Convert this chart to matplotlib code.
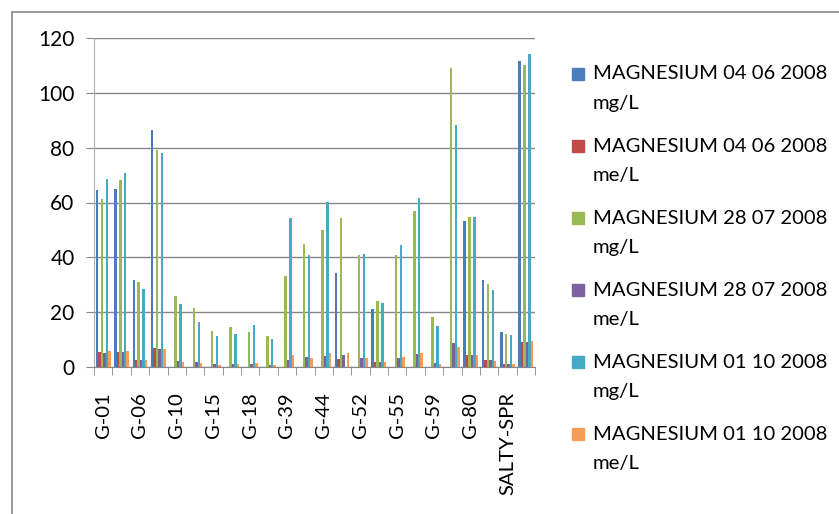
import numpy as np
import matplotlib
import matplotlib.pyplot as plt
from matplotlib.patches import Rectangle

matplotlib.use('Agg')

nan = np.nan

# sampling sites (Excel only printed every other name)
sites = ['G-01', '', 'G-06', '', 'G-10', '', 'G-15', '', 'G-18', '', 'G-39', '',
         'G-44', '', 'G-52', '', 'G-55', '', 'G-59', '', 'G-80', '', 'SALTY-SPR', '']

series_names = ['MAGNESIUM 04 06 2008\nmg/L', 'MAGNESIUM 04 06 2008\nme/L',
                'MAGNESIUM 28 07 2008\nmg/L', 'MAGNESIUM 28 07 2008\nme/L',
                'MAGNESIUM 01 10 2008\nmg/L', 'MAGNESIUM 01 10 2008\nme/L']

mg_0406 = [64.7, 65.0, 31.8, 86.6, nan, nan, nan, nan, nan, nan, nan, nan,
           nan, 34.4, nan, 21.3, nan, nan, nan, nan, 53.4, 31.8, 12.9, 111.7]
me_0406 = [5.3, 5.3, 2.6, 7.1, nan, nan, nan, nan, nan, nan, nan, nan,
           nan, 2.9, nan, 1.7, nan, nan, nan, nan, 4.4, 2.6, 1.1, 9.2]
mg_2807 = [61.4, 68.3, 31.1, 79.3, 26.0, 21.6, 13.2, 14.7, 12.9, 11.4, 33.3, 45.0,
           50.1, 54.5, 41.0, 24.2, 41.0, 57.0, 18.4, 109.2, 54.8, 30.4, 12.1, 110.3]
me_2807 = [5.1, 5.6, 2.6, 6.5, 2.1, 1.8, 1.1, 1.2, 1.1, 0.9, 2.7, 3.7,
           4.1, 4.5, 3.4, 1.9, 3.4, 4.7, 1.5, 8.6, 4.5, 2.5, 1.0, 9.1]
mg_0110 = [68.7, 70.9, 28.6, 78.2, 23.1, 16.5, 11.4, 12.1, 15.4, 10.3, 54.5, 41.0,
           60.3, nan, 41.3, 23.5, 44.6, 61.8, 15.1, 88.4, 54.8, 28.2, 11.8, 114.3]
me_0110 = [5.7, 5.8, 2.4, 6.4, 1.9, 1.4, 0.9, 1.0, 1.3, 0.8, 4.5, 3.4,
           5.0, 5.2, 3.4, 1.9, 3.7, 5.1, 1.2, 7.3, 4.5, 2.3, 1.0, 9.4]

colors = ['#4A7EBB', '#BE4B48', '#98B954', '#7D60A0', '#46AAC5', '#F59D56']

plt.rcParams['font.family'] = ['Lato', 'DejaVu Sans']

W, H = 839, 514
fig = plt.figure(figsize=(W / 100, H / 100), dpi=100)
ax = fig.add_axes([94 / W, 1 - 367 / H, (535 - 94) / W, (367 - 38) / H])

x = np.arange(len(sites))
n = len(series_names)
w = 1 / (n + 1.5)  # gap width 150%
all_series = [mg_0406, me_0406, mg_2807, me_2807, mg_0110, me_0110]
for j, (vals, c) in enumerate(zip(all_series, colors)):
    ax.bar(x + (j - (n - 1) / 2) * w, vals, width=w, color=c, linewidth=0)

ax.set_xlim(-0.5, len(sites) - 0.5)
ax.set_ylim(0, 120)
ax.set_yticks(range(0, 121, 20))
ax.yaxis.grid(True, color='#868686', linewidth=1)
ax.set_axisbelow(True)
ax.tick_params(axis='y', length=6, color='#868686', labelsize=15, pad=8)

ax.set_xticks(x)
ax.set_xticklabels(sites, rotation=90, fontsize=14.6)
ax.set_xticks(np.arange(-0.5, len(sites)), minor=True)
ax.tick_params(axis='x', which='major', length=0, pad=18)
ax.tick_params(axis='x', which='minor', length=6, color='#868686')

for s in ['top', 'right']:
    ax.spines[s].set_visible(False)
ax.spines['left'].set_color('#B0B0B0')
ax.spines['bottom'].set_color('#868686')

# legend drawn by hand: square next to the first line of each two-line label
for j, (name, c) in enumerate(zip(series_names, colors)):
    first, second = name.split('\n')
    yc = 74 + j * 72
    fig.patches.append(Rectangle((572 / W, 1 - (yc + 6) / H), 12 / W, 12 / H,
                                 transform=fig.transFigure, color=c))
    fig.text(593 / W, 1 - yc / H, first, fontsize=14.6, va='center', ha='left')
    fig.text(593 / W, 1 - (yc + 29) / H, second, fontsize=14.6, va='center', ha='left')

# chart area border (right and bottom edges fall outside the image)
fig.patches.append(Rectangle((12 / W, -0.1), 1.5, 1 - 12 / H + 0.1,
                             transform=fig.transFigure, fill=False,
                             edgecolor='#868686', linewidth=1.2))

plt.savefig('out.png', dpi=100)
